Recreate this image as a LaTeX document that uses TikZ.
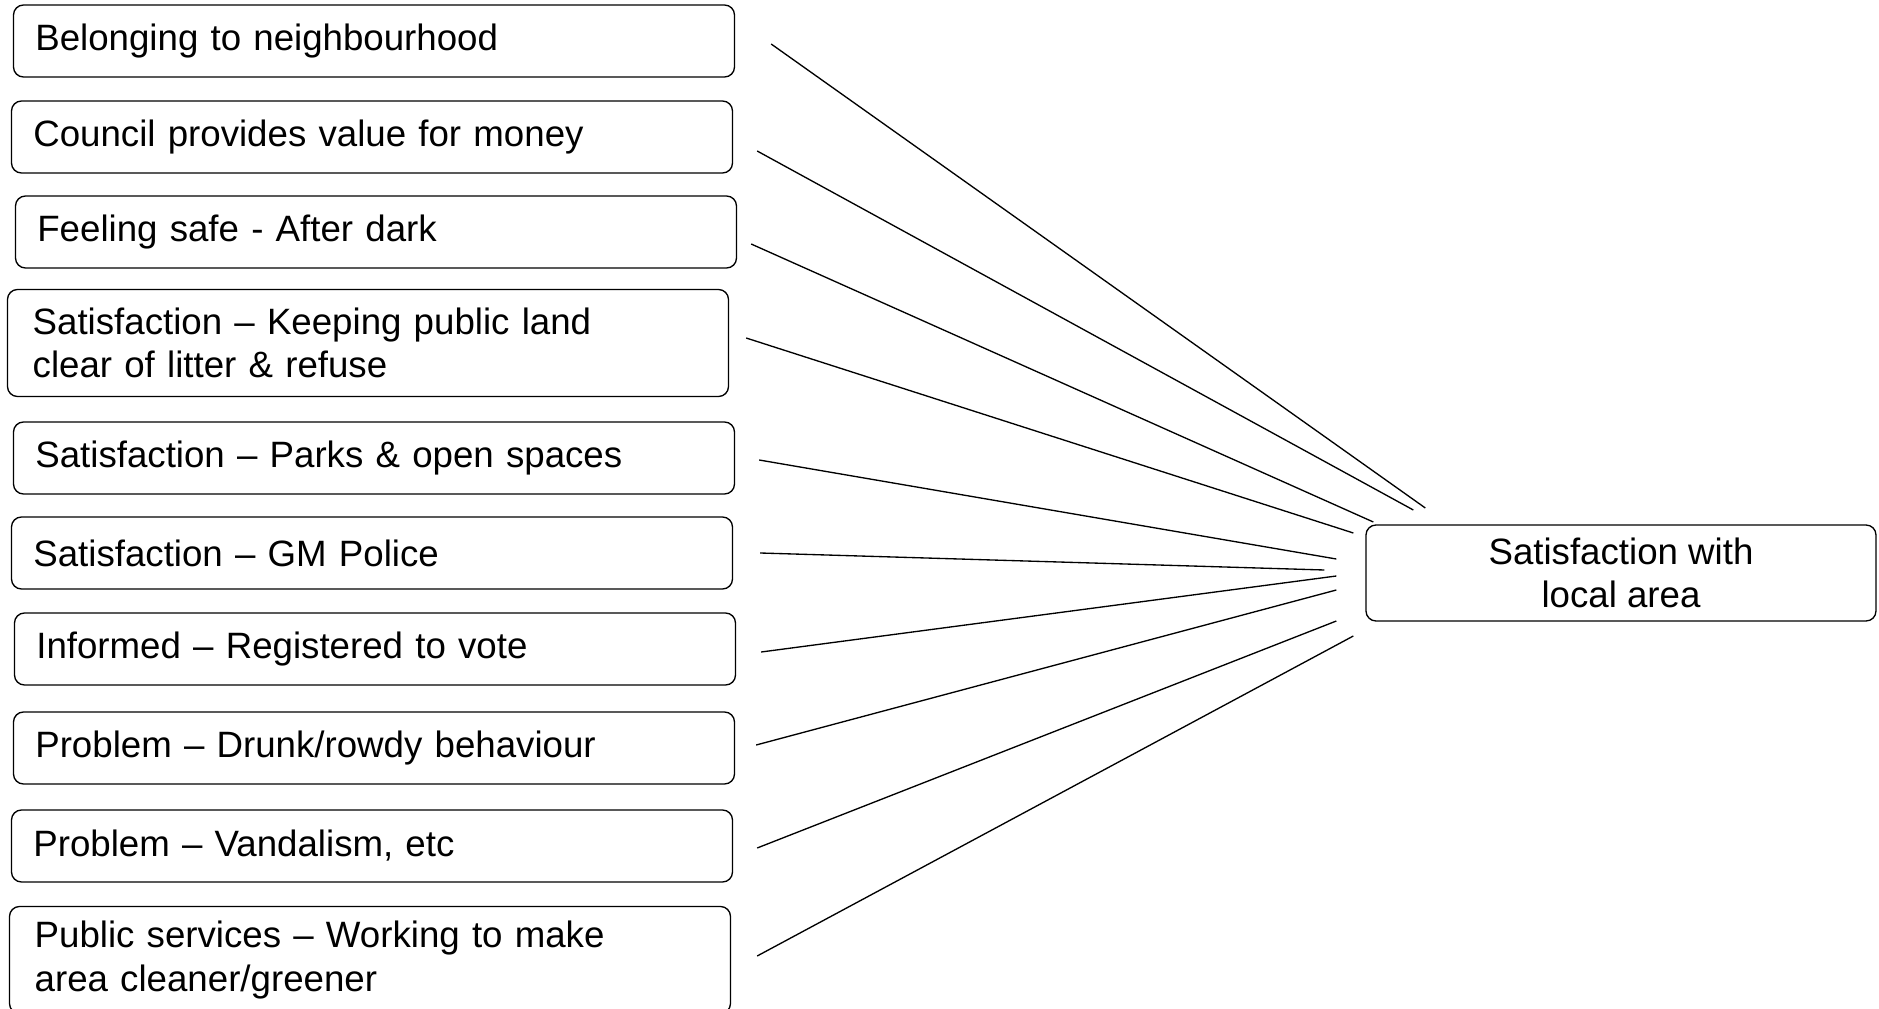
\documentclass[tikz,border=0pt]{standalone}
\usepackage{fontspec}
\setmainfont{Liberation Sans}
\usetikzlibrary{calc}
\begin{document}
\begin{tikzpicture}[x=0.75pt,y=-0.75pt,
		factor/.style={draw,rounded corners=7.5pt,line width=1pt,minimum width=540.75pt,minimum height=54pt,
			inner xsep=16pt,text width=508pt,align=left,font=\fontsize{27.5}{32.3}\selectfont},
		tall/.style={minimum height=80.25pt,inner xsep=18.5pt,text width=503pt},
		outcome/.style={draw,rounded corners=7.5pt,line width=1pt,minimum width=382.5pt,minimum height=72pt,
			align=center,font=\fontsize{27.5}{32.3}\selectfont},
		link/.style={line width=1pt}]
	\useasboundingbox (0,0) rectangle (1879,1009);
	\node[factor] (belong) at (374,41) {Belonging to neighbourhood};
	\node[factor] (council) at (372,137) {Council provides value for money};
	\node[factor] (safe) at (376,232) {Feeling safe - After dark};
	\node[factor,tall] (litter) at (368,343) {Satisfaction -- Keeping public land\\clear of litter \& refuse};
	\node[factor] (parks) at (374,458) {Satisfaction -- Parks \& open spaces};
	\node[factor] (police) at (372,553) {Satisfaction -- GM Police};
	\node[factor] (vote) at (375,649) {Informed -- Registered to vote};
	\node[factor] (drunk) at (374,748) {Problem -- Drunk/rowdy behaviour};
	\node[factor] (vandal) at (372,846) {Problem -- Vandalism, etc};
	\node[factor,tall] (greener) at (370,960) {Public services -- Working to make\\area cleaner/greener};
	\node[outcome] (area) at (1621,573) {Satisfaction with\\local area};
	% ends of the lines near the outcome box
	\coordinate (e1) at ($(area.west)+(60,-65)$);
	\coordinate (e2) at ($(area.west)+(48,-63)$);
	\coordinate (e3) at ($(area.west)+(8,-51)$);
	\coordinate (e4) at ($(area.west)+(-12,-40)$);
	\coordinate (e5) at ($(area.west)+(-29,-14)$);
	\coordinate (e6) at ($(area.west)+(-41,-3)$);
	\coordinate (e7) at ($(area.west)+(-29,3)$);
	\coordinate (e8) at ($(area.west)+(-29,17)$);
	\coordinate (e9) at ($(area.west)+(-29,48)$);
	\coordinate (e10) at ($(area.west)+(-12,63)$);
	\draw[link] ($(belong.east)+(36,3)$) -- (e1);
	\draw[link] ($(council.east)+(24,14)$) -- (e2);
	\draw[link] ($(safe.east)+(14,12)$) -- (e3);
	\draw[link] ($(litter.east)+(17,-5)$) -- (e4);
	\draw[link] ($(parks.east)+(24,2)$) -- (e5);
	\draw[link] ($(police.east)+(27,0)$) -- (e6);
	\draw[link] ($(vote.east)+(25,3)$) -- (e7);
	\draw[link] ($(drunk.east)+(21,-3)$) -- (e8);
	\draw[link] ($(vandal.east)+(24,2)$) -- (e9);
	\draw[link] ($(greener.east)+(26,-4)$) -- (e10);
\end{tikzpicture}
\end{document}
